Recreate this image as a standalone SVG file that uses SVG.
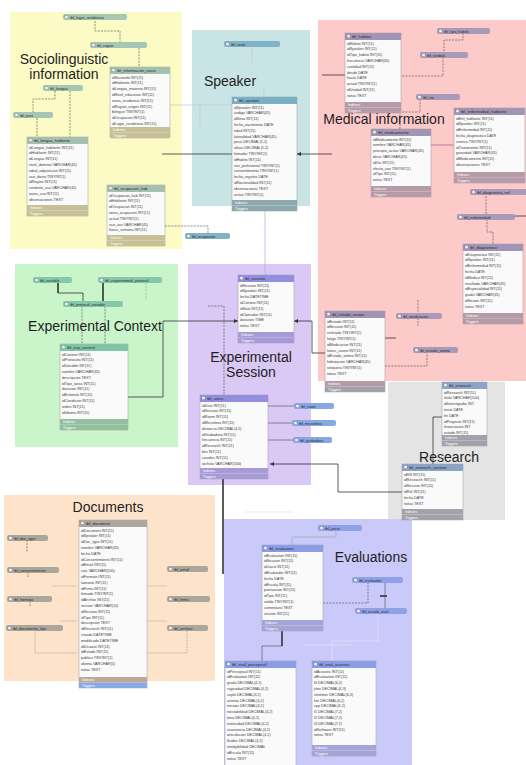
<svg xmlns="http://www.w3.org/2000/svg" width="526" height="765" viewBox="0 0 526 765">
<style>
text{font-family:"Liberation Sans",Arial,sans-serif}
.lbl{font-size:14px;fill:#1e1e1e}
.tb{fill:#fafafa;stroke:#9a9a9a;stroke-width:0.5}
.h{font-size:4px;fill:#2a2a2a}
.r{font-size:3.7px;fill:#3a3a3a}
.f{font-size:3.5px;fill:#fff}
.c{font-size:3.8px;fill:#2a2a2a}
.ic{fill:#f4f4f4;stroke:#666;stroke-width:0.3}
.hy{fill:#a3c1ad}.fy{fill:#c6bf98}.cy{fill:#a7c7b5}
.hs{fill:#7ab0c3}.fs{fill:#8ea9ae}.cs{fill:#80b3c6}
.hm{fill:#a294b4}.fm{fill:#b59aa8}.cm{fill:#a99ab8}
.hg{fill:#7ec6a5}.fg{fill:#92c09e}.cg{fill:#86c9aa}
.he{fill:#948ee0}.fe{fill:#a69bd6}.ce{fill:#88a8e3}
.hr{fill:#8ea4c6}.fr{fill:#a2a2aa}
.hd{fill:#aba79f}.fd{fill:#bea896}.cd{fill:#aba79f}
.hv{fill:#8b9de6}.fv{fill:#a4a4d6}.cv{fill:#90a2e6}
.ln{fill:none;stroke:#333;stroke-width:0.8}
.dl{fill:none;stroke:#444;stroke-width:0.6;stroke-dasharray:2,1.2}
.fl{fill:none;stroke:#b8c8d8;stroke-width:0.7}
.tk{fill:none;stroke:#333;stroke-width:1.6}
</style>
<defs>
<marker id="ar" viewBox="0 0 6 6" refX="6" refY="3" markerWidth="5" markerHeight="5" orient="auto"><path d="M0,0L6,3L0,6z" fill="#333"/></marker>
</defs>

<g id="regions">
<rect x="10" y="12" width="172" height="237" fill="#fcfbc6"/>
<rect x="192" y="30" width="118" height="176" fill="#c8e4e4"/>
<rect x="318" y="20" width="208" height="361" fill="#fdcaca"/>
<rect x="15" y="264" width="163" height="183" fill="#caf4ca"/>
<rect x="188" y="264" width="123" height="221" fill="#dac8f5"/>
<rect x="388" y="382" width="117" height="138" fill="#e4e4e4"/>
<rect x="4" y="495" width="211" height="186" fill="#fde3c9"/>
<rect x="224" y="519" width="188" height="246" fill="#cacafa"/>
<text class="lbl" x="64" y="64" text-anchor="middle">Sociolinguistic</text>
<text class="lbl" x="64" y="79" text-anchor="middle">information</text>
<text class="lbl" x="230" y="86" text-anchor="middle">Speaker</text>
<text class="lbl" x="384" y="124" text-anchor="middle">Medical information</text>
<text class="lbl" x="95" y="331" text-anchor="middle">Experimental Context</text>
<text class="lbl" x="251" y="362" text-anchor="middle">Experimental</text>
<text class="lbl" x="251" y="377" text-anchor="middle">Session</text>
<text class="lbl" x="449" y="462" text-anchor="middle">Research</text>
<text class="lbl" x="108" y="512" text-anchor="middle">Documents</text>
<text class="lbl" x="371" y="562" text-anchor="middle">Evaluations</text>
</g>

<g id="connectors">
<path class="dl" d="M95,21V31H120V42"/>
<path class="dl" d="M139,48V67"/>
<path class="dl" d="M70,91V137"/>
<path class="dl" d="M55,91V99H33V112"/>
<path class="dl" d="M37,118V137"/>
<path class="ln" d="M162,154H232"/>
<path class="dl" d="M165,226H208V233"/>
<path class="fl" d="M170,105H240"/>
<path class="fl" d="M200,105V126"/>
<path class="fl" d="M252,47V63"/>
<path class="fl" d="M264,88V97"/>
<path class="ln" d="M332,154H297" marker-end="url(#ar)"/>
<path class="ln" d="M322,75H345"/>
<path class="dl" d="M463,33V40H444V52"/>
<path class="dl" d="M443,57V76H401"/>
<path class="dl" d="M420,99V112H400V129"/>
<path class="fl" d="M431,145H454" style="stroke:#a58"/>
<path class="dl" d="M486,196V214"/>
<path class="ln" d="M515,216H526"/>
<path class="dl" d="M487,219V232H493V244"/>
<path class="dl" d="M418,300V313"/>
<path class="dl" d="M418,318V326"/>
<path class="dl" d="M385,366H427V352"/>
<path class="ln" d="M385,338H396"/>
<path class="ln" d="M128,397H163V321H238" marker-end="url(#ar)"/>
<path class="ln" d="M325,353H312V321H294" marker-end="url(#ar)"/>
<path class="dl" d="M208,306H224V395"/>
<path class="fl" d="M265,211V275" style="stroke:#b6a8d8"/>
<path class="ln" d="M268,406H294M268,423H292M268,440H293" style="stroke-width:0.5"/>
<path class="tk" d="M223,479V574"/>
<path class="ln" d="M402,492H338V464H270" marker-end="url(#ar)"/>
<path class="ln" d="M442,417H433V464"/>
<path class="tk" d="M58,283V293"/>
<path class="ln" d="M58,293H83V301"/>
<path class="tk" d="M103,283V301"/>
<path class="dl" d="M146,283V300" style="stroke:#8a8"/>
<path class="dl" d="M82,306V344"/>
<path class="dl" d="M105,306V344"/>
<path class="dl" d="M27,540V552"/>
<path class="dl" d="M28,572V577"/>
<path class="dl" d="M30,601V606"/>
<path class="fl" d="M35,630V653H77" style="stroke:#c8b8a8"/>
<path class="dl" d="M187,630V653" style="stroke:#998"/>
<path class="fl" d="M147,653H187" style="stroke:#c8b8a8"/>
<path class="fl" d="M147,586H167M147,621H167M77,586H52M77,621H60" style="stroke:#c8b8a8"/>
<path class="fl" d="M336,531V537H292V545" style="stroke:#9aa"/>
<path class="dl" d="M323,603H368V582"/>
<path class="ln" d="M385,582V608" style="stroke-width:0.5"/>
<path class="tk" d="M380,596H387"/>
<path class="fl" d="M378,613V641H332V661" style="stroke:#e4e4ff"/>
<path class="fl" d="M303,645H351" style="stroke:#e4e4ff"/>
<path class="tk" d="M282,631V646"/>
<path class="ln" d="M282,646H262V661" style="stroke-width:0.5"/>
<path class="fl" d="M245,512H292" style="stroke:#ddd"/>
</g>

<g id="t-socio"><rect class="tb" x="110" y="67" width="60" height="71"/><rect class="hy" x="110" y="67" width="60" height="7"/><rect class="ic" x="112" y="68.5" width="3" height="3"/><text class="h" x="117" y="72">tbl_informacion_socio</text>
<text class="r"><tspan x="112" y="78.6">idSocioinfo INT(11)</tspan><tspan x="112" y="84.4">idHablante INT(11)</tspan><tspan x="112" y="90.2">idLengua_materna INT(11)</tspan><tspan x="112" y="96">idNivel_educativo INT(11)</tspan><tspan x="112" y="101.8">anios_residencia INT(11)</tspan><tspan x="112" y="107.6">idRegion_origen INT(11)</tspan><tspan x="112" y="113.4">bilingue TINYINT(1)</tspan><tspan x="112" y="119.2">idOcupacion INT(11)</tspan><tspan x="112" y="125">idLugar_residencia INT(11)</tspan></text>
<rect class="fy" x="110" y="127" width="60" height="5.5"/><text class="f" x="113" y="131">Indexes</text><rect class="fy" x="110" y="132.5" width="60" height="5.5"/><text class="f" x="113" y="136.5">Triggers</text></g>

<g id="t-lengua"><rect class="tb" x="27" y="137" width="61" height="79"/><rect class="hy" x="27" y="137" width="61" height="7"/><rect class="ic" x="29" y="138.5" width="3" height="3"/><text class="h" x="34" y="142">tbl_lengua_hablante</text>
<text class="r"><tspan x="29" y="148.6">idLengua_hablante INT(11)</tspan><tspan x="29" y="154.4">idHablante INT(11)</tspan><tspan x="29" y="160.2">idLengua INT(11)</tspan><tspan x="29" y="166">nivel_dominio VARCHAR(45)</tspan><tspan x="29" y="171.8">edad_adquisicion INT(11)</tspan><tspan x="29" y="177.6">uso_diario TINYINT(1)</tspan><tspan x="29" y="183.4">idRegion INT(11)</tspan><tspan x="29" y="189.2">contexto_uso VARCHAR(45)</tspan><tspan x="29" y="195">anios_uso INT(11)</tspan><tspan x="29" y="200.8">observaciones TEXT</tspan></text>
<rect class="fy" x="27" y="205" width="61" height="5.5"/><text class="f" x="30" y="209">Indexes</text><rect class="fy" x="27" y="210.5" width="61" height="5.5"/><text class="f" x="30" y="214.5">Triggers</text></g>

<g id="t-ocup"><rect class="tb" x="107" y="185" width="58" height="61"/><rect class="hy" x="107" y="185" width="58" height="7"/><rect class="ic" x="109" y="186.5" width="3" height="3"/><text class="h" x="114" y="190">tbl_ocupacion_hab</text>
<text class="r"><tspan x="109" y="196.6">idOcupacion_hab INT(11)</tspan><tspan x="109" y="202.4">idHablante INT(11)</tspan><tspan x="109" y="208.2">idOcupacion INT(11)</tspan><tspan x="109" y="214">anios_ocupacion INT(11)</tspan><tspan x="109" y="219.8">actual TINYINT(1)</tspan><tspan x="109" y="225.6">uso_voz VARCHAR(45)</tspan><tspan x="109" y="231.4">horas_semana INT(11)</tspan></text>
<rect class="fy" x="107" y="235" width="58" height="5.5"/><text class="f" x="110" y="239">Indexes</text><rect class="fy" x="107" y="240.5" width="58" height="5.5"/><text class="f" x="110" y="244.5">Triggers</text></g>

<g id="t-speaker"><rect class="tb" x="232" y="97" width="65" height="114"/><rect class="hs" x="232" y="97" width="65" height="7"/><rect class="ic" x="234" y="98.5" width="3" height="3"/><text class="h" x="239" y="102">tbl_speaker</text>
<text class="r"><tspan x="234" y="108.6">idSpeaker INT(11)</tspan><tspan x="234" y="114.4">codigo VARCHAR(45)</tspan><tspan x="234" y="120.2">idSexo INT(11)</tspan><tspan x="234" y="126">fecha_nacimiento DATE</tspan><tspan x="234" y="131.8">edad INT(11)</tspan><tspan x="234" y="137.6">lateralidad VARCHAR(45)</tspan><tspan x="234" y="143.4">peso DECIMAL(5,2)</tspan><tspan x="234" y="149.2">altura DECIMAL(5,2)</tspan><tspan x="234" y="155">fumador TINYINT(1)</tspan><tspan x="234" y="160.8">idHabito INT(11)</tspan><tspan x="234" y="166.6">voz_profesional TINYINT(1)</tspan><tspan x="234" y="172.4">consentimiento TINYINT(1)</tspan><tspan x="234" y="178.2">fecha_registro DATE</tspan><tspan x="234" y="184">idNacionalidad INT(11)</tspan><tspan x="234" y="189.8">observaciones TEXT</tspan><tspan x="234" y="195.6">activo TINYINT(1)</tspan></text>
<rect class="fs" x="232" y="200" width="65" height="5.5"/><text class="f" x="235" y="204">Indexes</text><rect class="fs" x="232" y="205.5" width="65" height="5.5"/><text class="f" x="235" y="209.5">Triggers</text></g>

<g id="t-habitos"><rect class="tb" x="345" y="33" width="56" height="80"/><rect class="hm" x="345" y="33" width="56" height="7"/><rect class="ic" x="347" y="34.5" width="3" height="3"/><text class="h" x="352" y="38">tbl_habitos</text>
<text class="r"><tspan x="347" y="44.6">idHabito INT(11)</tspan><tspan x="347" y="50.4">idSpeaker INT(11)</tspan><tspan x="347" y="56.2">idTipo_habito INT(11)</tspan><tspan x="347" y="62">frecuencia VARCHAR(45)</tspan><tspan x="347" y="67.8">cantidad INT(11)</tspan><tspan x="347" y="73.6">desde DATE</tspan><tspan x="347" y="79.4">hasta DATE</tspan><tspan x="347" y="85.2">actual TINYINT(1)</tspan><tspan x="347" y="91">idUnidad INT(11)</tspan><tspan x="347" y="96.8">notas TEXT</tspan></text>
<rect class="fm" x="345" y="102" width="56" height="5.5"/><text class="f" x="348" y="106">Indexes</text><rect class="fm" x="345" y="107.5" width="56" height="5.5"/><text class="f" x="348" y="111.5">Triggers</text></g>

<g id="t-medicamento"><rect class="tb" x="371" y="129" width="60" height="68"/><rect class="hm" x="371" y="129" width="60" height="7"/><rect class="ic" x="373" y="130.5" width="3" height="3"/><text class="h" x="378" y="134">tbl_medicamento</text>
<text class="r"><tspan x="373" y="140.6">idMedicamento INT(11)</tspan><tspan x="373" y="146.4">nombre VARCHAR(45)</tspan><tspan x="373" y="152.2">principio_activo VARCHAR(45)</tspan><tspan x="373" y="158">dosis VARCHAR(45)</tspan><tspan x="373" y="163.8">idVia INT(11)</tspan><tspan x="373" y="169.6">efecto_voz TINYINT(1)</tspan><tspan x="373" y="175.4">idTipo INT(11)</tspan><tspan x="373" y="181.2">notas TEXT</tspan></text>
<rect class="fm" x="371" y="186" width="60" height="5.5"/><text class="f" x="374" y="190">Indexes</text><rect class="fm" x="371" y="191.5" width="60" height="5.5"/><text class="f" x="374" y="195.5">Triggers</text></g>

<g id="t-enfermedad"><rect class="tb" x="454" y="108" width="71" height="75"/><rect class="hm" x="454" y="108" width="71" height="7"/><rect class="ic" x="456" y="109.5" width="3" height="3"/><text class="h" x="461" y="113">tbl_enfermedad_hablante</text>
<text class="r"><tspan x="456" y="119.6">idEnf_hablante INT(11)</tspan><tspan x="456" y="125.4">idSpeaker INT(11)</tspan><tspan x="456" y="131.2">idEnfermedad INT(11)</tspan><tspan x="456" y="137">fecha_diagnostico DATE</tspan><tspan x="456" y="142.8">cronica TINYINT(1)</tspan><tspan x="456" y="148.6">idTratamiento INT(11)</tspan><tspan x="456" y="154.4">gravedad VARCHAR(45)</tspan><tspan x="456" y="160.2">idMedicamento INT(11)</tspan><tspan x="456" y="166">observaciones TEXT</tspan></text>
<rect class="fm" x="454" y="172" width="71" height="5.5"/><text class="f" x="457" y="176">Indexes</text><rect class="fm" x="454" y="177.5" width="71" height="5.5"/><text class="f" x="457" y="181.5">Triggers</text></g>

<g id="t-diagnostico"><rect class="tb" x="463" y="244" width="60" height="80"/><rect class="hm" x="463" y="244" width="60" height="7"/><rect class="ic" x="465" y="245.5" width="3" height="3"/><text class="h" x="470" y="249">tbl_diagnostico</text>
<text class="r"><tspan x="465" y="255.6">idDiagnostico INT(11)</tspan><tspan x="465" y="261.4">idSpeaker INT(11)</tspan><tspan x="465" y="267.2">idEnfermedad INT(11)</tspan><tspan x="465" y="273">fecha DATE</tspan><tspan x="465" y="278.8">idMedico INT(11)</tspan><tspan x="465" y="284.6">resultado VARCHAR(45)</tspan><tspan x="465" y="290.4">idEspecialidad INT(11)</tspan><tspan x="465" y="296.2">grado VARCHAR(45)</tspan><tspan x="465" y="302">idSesion INT(11)</tspan><tspan x="465" y="307.8">notas TEXT</tspan></text>
<rect class="fm" x="463" y="313" width="60" height="5.5"/><text class="f" x="466" y="317">Indexes</text><rect class="fm" x="463" y="318.5" width="60" height="5.5"/><text class="f" x="466" y="322.5">Triggers</text></g>

<g id="t-estado"><rect class="tb" x="325" y="311" width="60" height="81"/><rect class="hm" x="325" y="311" width="60" height="7"/><rect class="ic" x="327" y="312.5" width="3" height="3"/><text class="h" x="332" y="316">tbl_estado_sesion</text>
<text class="r"><tspan x="327" y="322.6">idEstado INT(11)</tspan><tspan x="327" y="328.4">idSession INT(11)</tspan><tspan x="327" y="334.2">resfriado TINYINT(1)</tspan><tspan x="327" y="340">fatiga TINYINT(1)</tspan><tspan x="327" y="345.8">idMedicacion INT(11)</tspan><tspan x="327" y="351.6">horas_sueno INT(11)</tspan><tspan x="327" y="357.4">idEstado_animo INT(11)</tspan><tspan x="327" y="363.2">hidratacion VARCHAR(45)</tspan><tspan x="327" y="369">ronquera TINYINT(1)</tspan><tspan x="327" y="374.8">notas TEXT</tspan></text>
<rect class="fm" x="325" y="381" width="60" height="5.5"/><text class="f" x="328" y="385">Indexes</text><rect class="fr" x="325" y="386.5" width="60" height="5.5"/><text class="f" x="328" y="390.5">Triggers</text></g>

<g id="t-context"><rect class="tb" x="60" y="344" width="68" height="86"/><rect class="hg" x="60" y="344" width="68" height="7"/><rect class="ic" x="62" y="345.5" width="3" height="3"/><text class="h" x="67" y="349">tbl_exp_context</text>
<text class="r"><tspan x="62" y="355.6">idContext INT(11)</tspan><tspan x="62" y="361.4">idProtocolo INT(11)</tspan><tspan x="62" y="367.2">idVariable INT(11)</tspan><tspan x="62" y="373">nombre VARCHAR(45)</tspan><tspan x="62" y="378.8">descripcion TEXT</tspan><tspan x="62" y="384.6">idTipo_tarea INT(11)</tspan><tspan x="62" y="390.4">duracion INT(11)</tspan><tspan x="62" y="396.2">idEstimulo INT(11)</tspan><tspan x="62" y="402">idCondicion INT(11)</tspan><tspan x="62" y="407.8">orden INT(11)</tspan><tspan x="62" y="413.6">idIdioma INT(11)</tspan></text>
<rect class="fg" x="60" y="419" width="68" height="5.5"/><text class="f" x="63" y="423">Indexes</text><rect class="fg" x="60" y="424.5" width="68" height="5.5"/><text class="f" x="63" y="428.5">Triggers</text></g>

<g id="t-session"><rect class="tb" x="238" y="275" width="56" height="68"/><rect class="he" x="238" y="275" width="56" height="7"/><rect class="ic" x="240" y="276.5" width="3" height="3"/><text class="h" x="245" y="280">tbl_session</text>
<text class="r"><tspan x="240" y="286.6">idSession INT(11)</tspan><tspan x="240" y="292.4">idSpeaker INT(11)</tspan><tspan x="240" y="298.2">fecha DATETIME</tspan><tspan x="240" y="304">idContext INT(11)</tspan><tspan x="240" y="309.8">idSala INT(11)</tspan><tspan x="240" y="315.6">idOperador INT(11)</tspan><tspan x="240" y="321.4">duracion TIME</tspan><tspan x="240" y="327.2">notas TEXT</tspan></text>
<rect class="fe" x="238" y="332" width="56" height="5.5"/><text class="f" x="241" y="336">Indexes</text><rect class="fe" x="238" y="337.5" width="56" height="5.5"/><text class="f" x="241" y="341.5">Triggers</text></g>

<g id="t-users"><rect class="tb" x="200" y="395" width="68" height="84"/><rect class="he" x="200" y="395" width="68" height="7"/><rect class="ic" x="202" y="396.5" width="3" height="3"/><text class="h" x="207" y="400">tbl_users</text>
<text class="r"><tspan x="202" y="406.6">idUser INT(11)</tspan><tspan x="202" y="412.4">idSession INT(11)</tspan><tspan x="202" y="418.2">idRoom INT(11)</tspan><tspan x="202" y="424">idMicrofono INT(11)</tspan><tspan x="202" y="429.8">distancia DECIMAL(4,2)</tspan><tspan x="202" y="435.6">idGrabadora INT(11)</tspan><tspan x="202" y="441.4">frecuencia INT(11)</tspan><tspan x="202" y="447.2">idResearch INT(11)</tspan><tspan x="202" y="453">bits INT(11)</tspan><tspan x="202" y="458.8">canales INT(11)</tspan><tspan x="202" y="464.6">archivo VARCHAR(100)</tspan></text>
<rect class="fe" x="200" y="468" width="68" height="5.5"/><text class="f" x="203" y="472">Indexes</text><rect class="fe" x="200" y="473.5" width="68" height="5.5"/><text class="f" x="203" y="477.5">Triggers</text></g>

<g id="t-research"><rect class="tb" x="442" y="382" width="45" height="64"/><rect class="hr" x="442" y="382" width="45" height="7"/><rect class="ic" x="444" y="383.5" width="3" height="3"/><text class="h" x="449" y="387">tbl_research</text>
<text class="r"><tspan x="444" y="393.6">idResearch INT(11)</tspan><tspan x="444" y="399.4">titulo VARCHAR(100)</tspan><tspan x="444" y="405.2">idInvestigador INT</tspan><tspan x="444" y="411">inicio DATE</tspan><tspan x="444" y="416.8">fin DATE</tspan><tspan x="444" y="422.6">idProyecto INT(11)</tspan><tspan x="444" y="428.4">financiacion INT</tspan><tspan x="444" y="434.2">estado INT(11)</tspan></text>
<rect class="fr" x="442" y="435" width="45" height="5.5"/><text class="f" x="445" y="439">Indexes</text><rect class="fr" x="442" y="440.5" width="45" height="5.5"/><text class="f" x="445" y="444.5">Triggers</text></g>

<g id="t-rsession"><rect class="tb" x="402" y="464" width="61" height="56"/><rect class="hr" x="402" y="464" width="61" height="7"/><rect class="ic" x="404" y="465.5" width="3" height="3"/><text class="h" x="409" y="469">tbl_research_session</text>
<text class="r"><tspan x="404" y="475.6">idRS INT(11)</tspan><tspan x="404" y="481.4">idResearch INT(11)</tspan><tspan x="404" y="487.2">idSession INT(11)</tspan><tspan x="404" y="493">idRol INT(11)</tspan><tspan x="404" y="498.8">fecha DATE</tspan><tspan x="404" y="504.6">notas TEXT</tspan></text>
<rect class="fr" x="402" y="509" width="61" height="5.5"/><text class="f" x="405" y="513">Indexes</text><rect class="fr" x="402" y="514.5" width="61" height="5.5"/><text class="f" x="405" y="518.5">Triggers</text></g>

<g id="t-document"><rect class="tb" x="79" y="520" width="68" height="168"/><rect class="hd" x="79" y="520" width="68" height="7"/><rect class="ic" x="81" y="521.5" width="3" height="3"/><text class="h" x="86" y="525">tbl_document</text>
<text class="r"><tspan x="81" y="531.6">idDocument INT(11)</tspan><tspan x="81" y="537.4">idSpeaker INT(11)</tspan><tspan x="81" y="543.2">idDoc_type INT(11)</tspan><tspan x="81" y="549">nombre VARCHAR(45)</tspan><tspan x="81" y="554.8">fecha DATE</tspan><tspan x="81" y="560.6">idConsentimiento INT(11)</tspan><tspan x="81" y="566.4">idEmail INT(11)</tspan><tspan x="81" y="572.2">ruta VARCHAR(200)</tspan><tspan x="81" y="578">idFormato INT(11)</tspan><tspan x="81" y="583.8">tamanio INT(11)</tspan><tspan x="81" y="589.6">idFirma INT(11)</tspan><tspan x="81" y="595.4">firmado TINYINT(1)</tspan><tspan x="81" y="601.2">idArchivo INT(11)</tspan><tspan x="81" y="607">version VARCHAR(10)</tspan><tspan x="81" y="612.8">idSession INT(11)</tspan><tspan x="81" y="618.6">idTipo INT(11)</tspan><tspan x="81" y="624.4">descripcion TEXT</tspan><tspan x="81" y="630.2">idResearch INT(11)</tspan><tspan x="81" y="636">creado DATETIME</tspan><tspan x="81" y="641.8">modificado DATETIME</tspan><tspan x="81" y="647.6">idUsuario INT(11)</tspan><tspan x="81" y="653.4">idEstado INT(11)</tspan><tspan x="81" y="659.2">publico TINYINT(1)</tspan><tspan x="81" y="665">idioma VARCHAR(5)</tspan><tspan x="81" y="670.8">notas TEXT</tspan></text>
<rect class="fd" x="79" y="677" width="68" height="5.5"/><text class="f" x="82" y="681">Indexes</text><rect class="ce" x="79" y="682.5" width="68" height="5.5"/><text class="f" x="82" y="686.5">Triggers</text></g>

<g id="t-evaluation"><rect class="tb" x="262" y="545" width="61" height="86"/><rect class="hv" x="262" y="545" width="61" height="7"/><rect class="ic" x="264" y="546.5" width="3" height="3"/><text class="h" x="269" y="550">tbl_evaluation</text>
<text class="r"><tspan x="264" y="556.6">idEvaluation INT(11)</tspan><tspan x="264" y="562.4">idSession INT(11)</tspan><tspan x="264" y="568.2">idJuicio INT(11)</tspan><tspan x="264" y="574">idEvaluador INT(11)</tspan><tspan x="264" y="579.8">fecha DATE</tspan><tspan x="264" y="585.6">idEscala INT(11)</tspan><tspan x="264" y="591.4">puntuacion INT(11)</tspan><tspan x="264" y="597.2">idTipo INT(11)</tspan><tspan x="264" y="603">valido TINYINT(1)</tspan><tspan x="264" y="608.8">comentario TEXT</tspan><tspan x="264" y="614.6">version INT(11)</tspan></text>
<rect class="fv" x="262" y="620" width="61" height="5.5"/><text class="f" x="265" y="624">Indexes</text><rect class="fv" x="262" y="625.5" width="61" height="5.5"/><text class="f" x="265" y="629.5">Triggers</text></g>

<g id="t-perceptual"><rect class="tb" x="225" y="661" width="71" height="110"/><rect class="hv" x="225" y="661" width="71" height="7"/><rect class="ic" x="227" y="662.5" width="3" height="3"/><text class="h" x="232" y="666">tbl_eval_perceptual</text>
<text class="r"><tspan x="227" y="672.6">idPerceptual INT(11)</tspan><tspan x="227" y="678.4">idEvaluation INT(11)</tspan><tspan x="227" y="684.2">grado DECIMAL(4,2)</tspan><tspan x="227" y="690">rugosidad DECIMAL(4,2)</tspan><tspan x="227" y="695.8">soplo DECIMAL(4,2)</tspan><tspan x="227" y="701.6">astenia DECIMAL(4,2)</tspan><tspan x="227" y="707.4">tension DECIMAL(4,2)</tspan><tspan x="227" y="713.2">inestabilidad DECIMAL(4,2)</tspan><tspan x="227" y="719">tono DECIMAL(4,2)</tspan><tspan x="227" y="724.8">intensidad DECIMAL(4,2)</tspan><tspan x="227" y="730.6">resonancia DECIMAL(4,2)</tspan><tspan x="227" y="736.4">articulacion DECIMAL(4,2)</tspan><tspan x="227" y="742.2">fluidez DECIMAL(4,2)</tspan><tspan x="227" y="748">inteligibilidad DECIMAL</tspan><tspan x="227" y="753.8">idEscala INT(11)</tspan><tspan x="227" y="759.6">notas TEXT</tspan></text></g>

<g id="t-acoustic"><rect class="tb" x="312" y="661" width="64" height="95"/><rect class="hv" x="312" y="661" width="64" height="7"/><rect class="ic" x="314" y="662.5" width="3" height="3"/><text class="h" x="319" y="666">tbl_eval_acoustic</text>
<text class="r"><tspan x="314" y="672.6">idAcoustic INT(11)</tspan><tspan x="314" y="678.4">idEvaluation INT(11)</tspan><tspan x="314" y="684.2">f0 DECIMAL(6,2)</tspan><tspan x="314" y="690">jitter DECIMAL(6,3)</tspan><tspan x="314" y="695.8">shimmer DECIMAL(6,3)</tspan><tspan x="314" y="701.6">hnr DECIMAL(6,2)</tspan><tspan x="314" y="707.4">cpp DECIMAL(6,2)</tspan><tspan x="314" y="713.2">f1 DECIMAL(7,2)</tspan><tspan x="314" y="719">f2 DECIMAL(7,2)</tspan><tspan x="314" y="724.8">f3 DECIMAL(7,2)</tspan><tspan x="314" y="730.6">idSoftware INT(11)</tspan><tspan x="314" y="736.4">notas TEXT</tspan></text>
<rect class="fv" x="312" y="745" width="64" height="5.5"/><text class="f" x="315" y="749">Indexes</text><rect class="fv" x="312" y="750.5" width="64" height="5.5"/><text class="f" x="315" y="754.5">Triggers</text></g>

<g id="c-lugar"><rect class="cy" x="63" y="14" width="64" height="6" rx="2"/><rect class="ic" x="65" y="15.5" width="3" height="3"/><text class="c" x="70" y="18.8">tbl_lugar_residencia</text></g>
<g id="c-region"><rect class="cy" x="90" y="42" width="57" height="6" rx="2"/><rect class="ic" x="92" y="43.5" width="3" height="3"/><text class="c" x="97" y="46.8">tbl_region</text></g>
<g id="c-lengua"><rect class="cy" x="43" y="85" width="40" height="6" rx="2"/><rect class="ic" x="45" y="86.5" width="3" height="3"/><text class="c" x="50" y="89.8">tbl_lengua</text></g>
<g id="c-pais"><rect class="cy" x="13" y="112" width="40" height="6" rx="2"/><rect class="ic" x="15" y="113.5" width="3" height="3"/><text class="c" x="20" y="116.8">tbl_pais</text></g>
<g id="c-sexo"><rect class="cs" x="224" y="41" width="56" height="6" rx="2"/><rect class="ic" x="226" y="42.5" width="3" height="3"/><text class="c" x="231" y="45.8">tbl_sexo</text></g>
<g id="c-ocupacion"><rect class="cs" x="185" y="233" width="45" height="6" rx="2"/><rect class="ic" x="187" y="234.5" width="3" height="3"/><text class="c" x="192" y="237.8">tbl_ocupacion</text></g>
<g id="c-tipohab"><rect class="cm" x="437" y="28" width="53" height="6" rx="2"/><rect class="ic" x="439" y="29.5" width="3" height="3"/><text class="c" x="444" y="32.8">tbl_tipo_habito</text></g>
<g id="c-unidad"><rect class="cm" x="420" y="52" width="48" height="6" rx="2"/><rect class="ic" x="422" y="53.5" width="3" height="3"/><text class="c" x="427" y="56.8">tbl_unidad</text></g>
<g id="c-via"><rect class="cm" x="416" y="94" width="44" height="6" rx="2"/><rect class="ic" x="418" y="95.5" width="3" height="3"/><text class="c" x="423" y="98.8">tbl_via</text></g>
<g id="c-diagenf"><rect class="cm" x="470" y="189" width="60" height="6" rx="2"/><rect class="ic" x="472" y="190.5" width="3" height="3"/><text class="c" x="477" y="193.8">tbl_diagnostico_enf</text></g>
<g id="c-enfermedad"><rect class="cm" x="457" y="214" width="58" height="6" rx="2"/><rect class="ic" x="459" y="215.5" width="3" height="3"/><text class="c" x="464" y="218.8">tbl_enfermedad</text></g>
<g id="c-medicacion"><rect class="cm" x="396" y="313" width="46" height="6" rx="2"/><rect class="ic" x="398" y="314.5" width="3" height="3"/><text class="c" x="403" y="317.8">tbl_medicacion</text></g>
<g id="c-animo"><rect class="cm" x="413" y="347" width="45" height="6" rx="2"/><rect class="ic" x="415" y="348.5" width="3" height="3"/><text class="c" x="420" y="351.8">tbl_estado_animo</text></g>
<g id="c-variable"><rect class="cg" x="33" y="277" width="39" height="6" rx="2"/><rect class="ic" x="35" y="278.5" width="3" height="3"/><text class="c" x="40" y="281.8">tbl_variable</text></g>
<g id="c-protocol"><rect class="cg" x="98" y="277" width="64" height="6" rx="2"/><rect class="ic" x="100" y="278.5" width="3" height="3"/><text class="c" x="105" y="281.8">tbl_experimental_protocol</text></g>
<g id="c-protvar"><rect class="cg" x="63" y="301" width="60" height="6" rx="2"/><rect class="ic" x="65" y="302.5" width="3" height="3"/><text class="c" x="70" y="305.8">tbl_protocol_variable</text></g>
<g id="c-room"><rect class="ce" x="294" y="403" width="40" height="6" rx="2"/><rect class="ic" x="296" y="404.5" width="3" height="3"/><text class="c" x="301" y="407.8">tbl_room</text></g>
<g id="c-micro"><rect class="ce" x="292" y="420" width="44" height="6" rx="2"/><rect class="ic" x="294" y="421.5" width="3" height="3"/><text class="c" x="299" y="424.8">tbl_microfono</text></g>
<g id="c-grab"><rect class="ce" x="293" y="437" width="39" height="6" rx="2"/><rect class="ic" x="295" y="438.5" width="3" height="3"/><text class="c" x="300" y="441.8">tbl_grabadora</text></g>
<g id="c-doctype"><rect class="cd" x="7" y="535" width="41" height="6" rx="2"/><rect class="ic" x="9" y="536.5" width="3" height="3"/><text class="c" x="14" y="539.8">tbl_doc_type</text></g>
<g id="c-consent"><rect class="cd" x="7" y="567" width="52" height="6" rx="2"/><rect class="ic" x="9" y="568.5" width="3" height="3"/><text class="c" x="14" y="571.8">tbl_consentimiento</text></g>
<g id="c-formato"><rect class="cd" x="7" y="596" width="45" height="6" rx="2"/><rect class="ic" x="9" y="597.5" width="3" height="3"/><text class="c" x="14" y="600.8">tbl_formato</text></g>
<g id="c-doctipo"><rect class="cd" x="6" y="625" width="57" height="6" rx="2"/><rect class="ic" x="8" y="626.5" width="3" height="3"/><text class="c" x="13" y="629.8">tbl_documento_tipo</text></g>
<g id="c-email"><rect class="cd" x="167" y="566" width="41" height="6" rx="2"/><rect class="ic" x="169" y="567.5" width="3" height="3"/><text class="c" x="174" y="570.8">tbl_email</text></g>
<g id="c-firma"><rect class="cd" x="167" y="596" width="43" height="6" rx="2"/><rect class="ic" x="169" y="597.5" width="3" height="3"/><text class="c" x="174" y="600.8">tbl_firma</text></g>
<g id="c-archivo"><rect class="cd" x="167" y="625" width="41" height="6" rx="2"/><rect class="ic" x="169" y="626.5" width="3" height="3"/><text class="c" x="174" y="629.8">tbl_archivo</text></g>
<g id="c-juicio"><rect class="cv" x="318" y="525" width="44" height="6" rx="2"/><rect class="ic" x="320" y="526.5" width="3" height="3"/><text class="c" x="325" y="529.8">tbl_juicio</text></g>
<g id="c-evaluador"><rect class="cv" x="352" y="577" width="51" height="6" rx="2"/><rect class="ic" x="354" y="578.5" width="3" height="3"/><text class="c" x="359" y="581.8">tbl_evaluador</text></g>
<g id="c-escala"><rect class="cv" x="355" y="608" width="52" height="6" rx="2"/><rect class="ic" x="357" y="609.5" width="3" height="3"/><text class="c" x="362" y="612.8">tbl_escala_eval</text></g>
</svg>
